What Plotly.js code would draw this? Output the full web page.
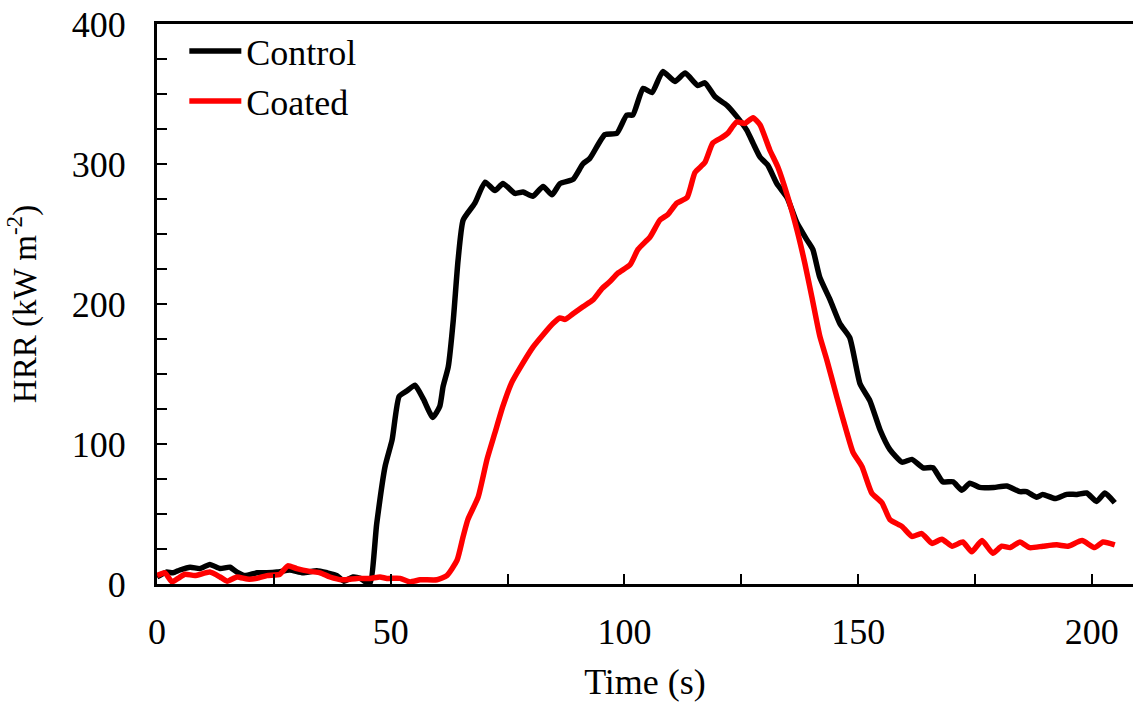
<!DOCTYPE html>
<html>
<head>
<meta charset="utf-8">
<script src="https://cdn.plot.ly/plotly-3.0.1.min.js"></script>
<style>html,body{margin:0;padding:0;background:#fff;}#chart{width:1133px;height:702px;}</style>
</head>
<body>
<div id="chart"></div>
<script>
// Control series
const controlTime = [0,2,3.4,4.9,7.1,9.2,11.3,13.5,15.6,17.1,18.8,21.4,23.5,25.7,28.4,31.2,34.2,36.4,38.5,40,41.9,43.5,45.5,47,48.8,50.3,51.8,53.5,55.2,57,59,60.5,61.2,62.3,63.4,64.4,65.5,68,70.2,72.3,74,76.6,78.3,80.4,82.6,84.5,86.2,89,91.1,92.6,95.8,98.4,100.5,101.8,104,105.9,108.2,110.8,113,115.7,117.2,119.4,121.9,124,126.2,127.5,129,130.7,132.6,134.8,136.9,139,140.3,141.8,144,146.1,148.2,150.4,152.5,154.7,156.8,159.4,161.5,163.9,166,168.1,170.3,172.2,173.9,176,179,181.8,184.6,186,188.2,189.5,192.1,194.6,196.8,198.9,201,202.8,204.9];
const controlHRR = [5,8.5,8,10,12,11,14,11,12,8.5,6,8,8,8.5,10,8,9.5,8,6,2,5,4,0,43,84,103,134,138,142,132,119,127,141,155,189,231,260,272,287,281,286,279,280,277,284,278,286,289,300,304,321,322,335,335,354,351,366,359,365,356,358,348,342,334,324,315,305,299,286,276,258,246,239,219,203,186,176,143,131,110,96,87,89,83,83,73,73,67,72,69,69,70,66,66,62,64,61,64,64,65,59,65,58];

// Coated series
const coatedTime = [0,1.7,3.2,4.5,6,8.1,11.3,13.5,15,17.1,19.3,21.4,23.5,26.3,28,29.9,32.7,34.9,37,39.6,42.8,45.6,47.7,49.2,52,54.1,56.3,59.9,62,64.2,65.5,66.5,68.7,70.6,72.3,74,75.9,77.6,80.4,82.6,84.7,86.2,87.3,89,91.1,93.3,95.2,96.9,98.6,101.2,102.9,105.5,107.6,109.3,111.2,113.4,115.1,117.2,118.9,120.9,122.1,124,125.8,127.5,129,131.1,132.8,134.8,136.9,138.6,140.1,141.8,143.3,145.4,147.6,148.9,150.8,152.9,155.1,156.8,159.4,161.5,163.6,165.8,167.9,170.1,172.4,174.3,176.5,178.8,180.7,182.5,184.6,186.7,189.5,192.5,194.9,197.9,200.6,202.4,204.9];
const coatedHRR = [6,8,1.5,4,7,6,8.5,5,2,5,3.5,4,6,7,13,11,9,8,5,3,4,4,5,4,4,1.5,3,3,6,17,34,46,62,89,108,127,144,154,169,178,186,190,189,193,198,203,211,216,222,228,239,248,260,264,272,276,294,301,315,319,322,330,329,333,328,310,298,278,253,229,205,177,160,134,108,94,84,65,58,46,41,34,36,29,32,27,30,23,31,22,27,26,30,26,27,28,27,31,26,30,28];

const seriesNames = ['Control', 'Coated'];
const xTitle = 'Time (s)';
const yTitle = 'HRR (kW m<sup>-2</sup>)';

const FONT = 'Liberation Serif';

const traces = [
  {x: controlTime, y: controlHRR, name: seriesNames[0], type: 'scatter', mode: 'lines',
   line: {color: '#000000', width: 5.5, shape: 'spline', smoothing: 0.5}},
  {x: coatedTime, y: coatedHRR, name: seriesNames[1], type: 'scatter', mode: 'lines',
   line: {color: '#ff0000', width: 5.5, shape: 'spline', smoothing: 0.5}}
];

const layout = {
  width: 1133, height: 702,
  margin: {l: 157, r: 0, t: 24, b: 118},
  paper_bgcolor: '#ffffff', plot_bgcolor: '#ffffff',
  font: {family: FONT, size: 36, color: '#000000'},
  showlegend: true,
  legend: {x: 0.028, y: 1.005, xanchor: 'left', yanchor: 'top', bgcolor: 'rgba(0,0,0,0)',
           font: {family: FONT, size: 36, color: '#000'}, itemwidth: 52, tracegroupgap: 0},
  xaxis: {
    range: [0, 208.8], showgrid: false, zeroline: false,
    showline: true, linecolor: '#000', linewidth: 3, mirror: true,
    ticks: 'inside', ticklen: 10, tickwidth: 2, tickcolor: '#000',
    tick0: 0, dtick: 50, ticklabelstandoff: 14,
    minor: {dtick: 25, ticks: 'inside', ticklen: 10, tickwidth: 2, tickcolor: '#000'},
    tickfont: {family: FONT, size: 36, color: '#000'},
    title: {text: xTitle, font: {family: FONT, size: 36, color: '#000'}, standoff: 22}
  },
  yaxis: {
    range: [0, 400], showgrid: false, zeroline: false,
    showline: true, linecolor: '#000', linewidth: 3, mirror: false,
    ticks: 'inside', ticklen: 10, tickwidth: 2, tickcolor: '#000',
    tick0: 0, dtick: 100, ticklabelstandoff: 21,
    minor: {dtick: 25, ticks: 'inside', ticklen: 10, tickwidth: 2, tickcolor: '#000'},
    tickfont: {family: FONT, size: 36, color: '#000'},
    title: {text: yTitle, font: {family: FONT, size: 33, color: '#000'}, standoff: 26}
  }
};

Plotly.newPlot('chart', traces, layout, {staticPlot: true, displayModeBar: false});
</script>
</body>
</html>
